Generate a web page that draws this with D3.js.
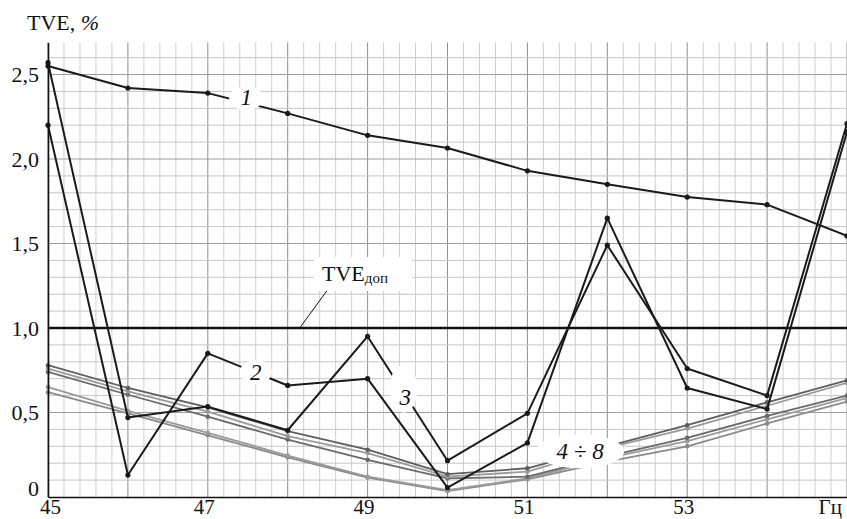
<!DOCTYPE html>
<html>
<head>
<meta charset="utf-8">
<script src="https://cdnjs.cloudflare.com/ajax/libs/d3/7.8.5/d3.min.js"></script>
<style>
  body { margin: 0; background: #fff; }
  svg { display: block; }
</style>
</head>
<body>
<div id="chart"></div>
<script>
// frequency, Hz
var freq = [45, 46, 47, 48, 49, 50, 51, 52, 53, 54, 55];
// TVE, %
var tve1 = [2.55, 2.42, 2.39, 2.27, 2.14, 2.065, 1.93, 1.85, 1.775, 1.73, 1.545];
var tve2 = [2.20, 0.13, 0.85, 0.66, 0.70, 0.055, 0.32, 1.65, 0.645, 0.52, 2.16];
var tve3 = [2.57, 0.47, 0.535, 0.395, 0.95, 0.215, 0.495, 1.49, 0.76, 0.60, 2.21];
var tve4 = [0.78, 0.645, 0.53, 0.39, 0.28, 0.135, 0.17, 0.30, 0.425, 0.56, 0.69];
var tve5 = [0.76, 0.625, 0.505, 0.36, 0.26, 0.12, 0.15, 0.29, 0.405, 0.54, 0.675];
var tve6 = [0.74, 0.605, 0.475, 0.34, 0.22, 0.11, 0.12, 0.24, 0.35, 0.48, 0.60];
var tve7 = [0.65, 0.51, 0.38, 0.245, 0.12, 0.04, 0.11, 0.23, 0.33, 0.46, 0.585];
var tve8 = [0.62, 0.495, 0.365, 0.235, 0.115, 0.035, 0.105, 0.21, 0.30, 0.435, 0.565];
var tveLimit = 1.0;

var xTicks = [45, 47, 49, 51, 53, 55];
var yTicks = [0, 0.5, 1.0, 1.5, 2.0, 2.5];

var serif = "'Liberation Serif', 'Times New Roman', 'DejaVu Serif', serif";
var width = 847, height = 519;
var x = d3.scaleLinear().domain([45, 55]).range([48, 847]);
var y = d3.scaleLinear().domain([0, 2.69]).range([497, 42.4]);

var svg = d3.select("#chart").append("svg")
    .attr("width", width)
    .attr("height", height);

/****** grid ******/
var grid = svg.append("g");
var vMinor = d3.range(45, 55.001, 0.2);
grid.selectAll(".vmin").data(vMinor).enter().append("line")
    .attr("x1", d => x(d)).attr("x2", d => x(d))
    .attr("y1", y(0)).attr("y2", y(2.69))
    .attr("stroke", d => Math.abs(d - Math.round(d)) < 1e-6 ? "#8e8e8e" : "#cfcfcf")
    .attr("stroke-width", 1);
var hMinor = d3.range(0.1, 2.65, 0.1);
grid.selectAll(".hmin").data(hMinor).enter().append("line")
    .attr("x1", x(45)).attr("x2", x(55))
    .attr("y1", d => y(d)).attr("y2", d => y(d))
    .attr("stroke", d => Math.abs(d * 2 - Math.round(d * 2)) < 1e-6 ? "#9e9e9e" : "#c6c6c6")
    .attr("stroke-width", 1);

/****** limit line ******/
svg.append("line")
    .attr("x1", x(45)).attr("x2", x(55))
    .attr("y1", y(tveLimit)).attr("y2", y(tveLimit))
    .attr("stroke", "#111").attr("stroke-width", 2.6);

var line = d3.line().x((d, i) => x(freq[i])).y(d => y(d));

function drawSeries(data, color, w, r) {
    var g = svg.append("g");
    g.append("path").datum(data)
        .attr("d", line)
        .attr("fill", "none")
        .attr("stroke", color)
        .attr("stroke-width", w)
        .attr("stroke-linejoin", "round");
    g.selectAll("circle").data(data).enter().append("circle")
        .attr("cx", (d, i) => x(freq[i]))
        .attr("cy", d => y(d))
        .attr("r", r)
        .attr("fill", color);
}

// curves 4..8, grey
drawSeries(tve8, "#8a8a8a", 1.8, 2.3);
drawSeries(tve7, "#9a9a9a", 1.8, 2.3);
drawSeries(tve6, "#6a6a6a", 1.8, 2.3);
drawSeries(tve5, "#9a9a9a", 1.8, 2.3);
drawSeries(tve4, "#5e5e5e", 1.8, 2.3);
// curves 1..3, black
drawSeries(tve3, "#1a1a1a", 2, 2.6);
drawSeries(tve2, "#1a1a1a", 2, 2.6);
drawSeries(tve1, "#1a1a1a", 2, 2.6);

/****** axes ******/
var xAxis = d3.axisBottom(x).tickValues(xTicks).tickSize(0).tickPadding(2)
    .tickFormat(d => d === 55 ? "Гц" : d);
var gx = svg.append("g").attr("transform", "translate(0," + y(0) + ")").call(xAxis)
    .attr("font-family", serif).attr("font-size", 21);
gx.select(".domain").attr("stroke", "#111").attr("stroke-width", 1.6);
gx.selectAll("text").attr("fill", "#111")
    .attr("dx", d => d === 45 ? 2 : -4)
    .attr("text-anchor", d => d === 55 ? "start" : "middle")
    .attr("x", d => d === 55 ? -25 : 0);

var yAxis = d3.axisLeft(y).tickValues(yTicks).tickSize(0).tickPadding(9)
    .tickFormat(d => d === 0 ? "0" : d3.format(".1f")(d).replace(".", ","));
var gy = svg.append("g").attr("transform", "translate(" + x(45) + ",0)").call(yAxis)
    .attr("font-family", serif).attr("font-size", 22);
gy.select(".domain").attr("stroke", "#111").attr("stroke-width", 1.6);
gy.selectAll("text").attr("fill", "#111")
    .attr("dy", d => d === 0 ? "-0.05em" : "0.32em");

var title = svg.append("text").attr("x", 27).attr("y", 30)
    .attr("font-family", serif).attr("font-size", 22).attr("fill", "#111");
title.append("tspan").text("TVE, ");
title.append("tspan").attr("font-style", "italic").text("%");

/****** labels on curves ******/
function gap(cx, cy, rx, ry) {
    svg.append("ellipse").attr("cx", cx).attr("cy", cy)
        .attr("rx", rx).attr("ry", ry).attr("fill", "#fff");
}
function label(txt, cx, cy) {
    svg.append("text").attr("x", cx).attr("y", cy)
        .attr("text-anchor", "middle").attr("dy", "0.35em")
        .attr("font-family", serif).attr("font-size", 23)
        .attr("font-style", "italic").attr("fill", "#111")
        .text(txt);
}
gap(x(47.48), y(2.36), 17, 12);
label("1", x(47.48), y(2.36) - 1);

gap(x(47.6), y(0.74), 16, 12);
label("2", x(47.6), y(0.74));

gap(x(49.45), y(0.64), 14, 24);
label("3", x(49.47), y(0.59));

gap(x(51.66), y(0.27), 44, 17);
label("4 ÷ 8", x(51.66), y(0.27));

// TVE limit label
svg.append("rect").attr("x", 314).attr("y", 257).attr("width", 98).attr("height", 34).attr("fill", "#fff");
svg.append("line")
    .attr("x1", x(48.15)).attr("y1", y(tveLimit))
    .attr("x2", x(48.49)).attr("y2", y(1.22))
    .attr("stroke", "#111").attr("stroke-width", 1);
var lim = svg.append("text").attr("x", 322).attr("y", 281)
    .attr("font-family", serif).attr("font-size", 22).attr("fill", "#111");
lim.append("tspan").text("TVE");
lim.append("tspan").attr("dy", 2).attr("font-size", 15).text("доп");
</script>
</body>
</html>
